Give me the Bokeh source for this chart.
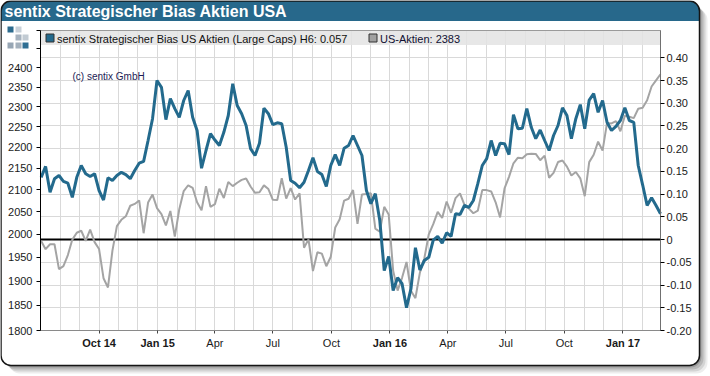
import math
import pandas as pd
from bokeh.plotting import figure
from bokeh.models import (Range1d, LogAxis, LogScale, FixedTicker, BoxAnnotation, Label,
                          DatetimeAxis)
from bokeh.embed import file_html
from bokeh.resources import INLINE

# ---------------- data ----------------
week_start = "2014-07-02"  # weekly observations (Wednesdays)

bias = [0.137, 0.161, 0.104, 0.134, 0.141, 0.128, 0.124, 0.093, 0.137, 0.163,
        0.145, 0.139, 0.145, 0.108, 0.087, 0.136, 0.130, 0.141, 0.148, 0.143,
        0.134, 0.152, 0.168, 0.172, 0.218, 0.266, 0.350, 0.335, 0.264, 0.310,
        0.288, 0.269, 0.306, 0.328, 0.269, 0.240, 0.157, 0.196, 0.233, 0.219,
        0.207, 0.236, 0.273, 0.343, 0.295, 0.277, 0.251, 0.200, 0.185, 0.212,
        0.289, 0.277, 0.253, 0.257, 0.255, 0.203, 0.130, 0.124, 0.114, 0.126,
        0.152, 0.180, 0.150, 0.143, 0.117, 0.163, 0.187, 0.163, 0.201, 0.207,
        0.229, 0.207, 0.185, 0.108, 0.079, 0.101, 0.042, -0.068, -0.037, -0.112,
        -0.084, -0.097, -0.150, -0.108, -0.018, -0.067, -0.046, -0.039, -0.001, 0.007,
        -0.008, 0.015, 0.007, 0.057, 0.055, 0.075, 0.071, 0.086, 0.123, 0.163,
        0.178, 0.218, 0.185, 0.212, 0.211, 0.187, 0.275, 0.244, 0.245, 0.288,
        0.247, 0.222, 0.241, 0.218, 0.196, 0.229, 0.251, 0.290, 0.273, 0.222,
        0.266, 0.297, 0.244, 0.307, 0.321, 0.280, 0.306, 0.258, 0.240, 0.249,
        0.262, 0.290, 0.262, 0.258, 0.163, 0.120, 0.075, 0.092, 0.075, 0.057]

spx = [1985.4, 1967.6, 1978.2, 1978.3, 1925.2, 1931.6, 1955.1, 1988.4, 2003.4, 2007.7,
       1985.5, 2010.4, 1982.9, 1967.9, 1906.1, 1886.8, 1964.6, 2018.1, 2031.9, 2039.8,
       2063.5, 2067.6, 2075.4, 2002.3, 2070.7, 2088.8,
       2058.2, 2044.8, 2019.4, 2051.8, 1995.0, 2055.5, 2097.0, 2110.3, 2104.5, 2071.3,
       2053.4, 2108.1, 2061.0, 2067.0, 2102.1, 2081.2, 2117.7, 2108.3, 2116.1, 2122.7,
       2126.1, 2107.4, 2092.8, 2094.1, 2110.0, 2101.5, 2076.8, 2076.6, 2126.6, 2079.7,
       2103.8, 2077.6, 2091.5, 1970.9, 1988.9, 1921.2, 1961.1, 1958.0, 1931.3, 1951.4,
       2014.9, 2033.1, 2075.2, 2079.4, 2099.2, 2023.0, 2089.2, 2090.1, 2091.7, 2012.4,
       2005.6, 2061.0, 2043.9,
       1922.0, 1880.3, 1906.9, 1940.2, 1880.1, 1864.8, 1917.8, 1948.1, 2000.0, 2022.2,
       2049.6, 2035.9, 2072.8, 2047.6, 2080.7, 2091.6, 2065.3, 2057.1, 2046.6, 2052.3,
       2099.1, 2099.1, 2096.1, 2071.2, 2037.4, 2103.0, 2129.9, 2161.7, 2175.0, 2173.6,
       2182.9, 2184.1, 2183.9, 2169.0, 2180.0, 2127.8, 2139.2, 2164.7, 2168.3, 2153.7,
       2133.0, 2141.2, 2126.4, 2085.2, 2164.4, 2181.9, 2213.4, 2192.0, 2259.5, 2258.1,
       2263.8, 2238.8,
       2277.0, 2274.6, 2271.3, 2294.7, 2297.4, 2316.1, 2351.2, 2367.3, 2383.1]

right_ticks = [-0.2, -0.15, -0.1, -0.05, 0, 0.05, 0.1, 0.15, 0.2, 0.25, 0.3, 0.35, 0.4]
right_labels = ["-0.20", "-0.15", "-0.10", "-0.05", "0", "0.05", "0.10", "0.15",
                "0.20", "0.25", "0.30", "0.35", "0.40"]
left_ticks = [1800, 1850, 1900, 1950, 2000, 2050, 2100, 2150, 2200, 2250, 2300, 2350, 2400, 2450, 2500]
left_labels = ["1800", "1850", "1900", "1950", "2000", "2050", "2100", "2150", "2200",
               "2250", "2300", "2350", "2400", "", ""]
quarter_dates = ["2014-10-01", "2015-01-01", "2015-04-01", "2015-07-01", "2015-10-01",
                 "2016-01-01", "2016-04-01", "2016-07-01", "2016-10-01", "2017-01-01"]
quarter_labels = ["Oct 14", "Jan 15", "Apr", "Jul", "Oct", "Jan 16", "Apr", "Jul", "Oct", "Jan 17"]
quarter_bold = [True, True, False, False, False, True, False, False, False, True]

title_text = "sentix Strategischer Bias Aktien USA"
legend_bias = "sentix Strategischer Bias US Aktien (Large Caps) H6: 0.057"
legend_spx = "US-Aktien: 2383"
copyright_text = "(c) sentix GmbH"

x_first, x_last = "2014-07-01", "2017-03-01"
bias_lo, bias_hi = -0.2, 0.46
spx_lo, spx_hi = 1800, 2500

# ---------------- styling / geometry ----------------
BLUE = "#236a8d"
GRAY = "#a4a4a4"
FONT = "Liberation Sans"
W, H = 710, 376
CL, CR, CT, CB = 40, 660, 30, 330  # chart area inside the canvas (px)


def ms(d):
    return int(pd.Timestamp(d).value // 10**6)


x0, x1 = ms(x_first), ms(x_last)
sx = (x1 - x0) / (CR - CL)
sy = (bias_hi - bias_lo) / (CB - CT)
kl = math.log(spx_hi / spx_lo) / (CB - CT)

dates = pd.date_range(week_start, periods=len(bias), freq="7D")
month_ticks = [ms(d) for d in pd.date_range(x_first, x_last, freq="MS")]
q_ticks = [ms(d) for d in quarter_dates]

p = figure(width=W, height=H, x_axis_type="datetime",
           x_range=Range1d(x0 - CL * sx, x1 + (W - CR) * sx),
           y_range=Range1d(bias_lo - (H - CB) * sy, bias_hi + CT * sy),
           y_axis_location="right",
           output_backend="svg", toolbar_location=None, tools="",
           min_border=0, border_fill_color="white", background_fill_color="white",
           outline_line_color=None)
p.title = None
p.extra_y_ranges = {"spx": Range1d(spx_lo * math.exp(-(H - CB) * kl),
                                   spx_hi * math.exp(CT * kl))}
p.extra_y_scales = {"spx": LogScale()}


def cbox(l, t, r, b, level="image", **kw):
    kw.setdefault("fill_alpha", 1.0)
    kw.setdefault("line_alpha", 1.0)
    return BoxAnnotation(left=l, right=r, top=t, bottom=b,
                         left_units="canvas", right_units="canvas",
                         top_units="canvas", bottom_units="canvas",
                         level=level, **kw)


# ---- chrome (drawn first) ----
for off, a in [(8, 0.07), (6, 0.10), (4, 0.13), (2, 0.16)]:
    p.add_layout(cbox(0.5 + off, 0.5 + off, 699 + off, 365 + off, fill_color="black",
                      fill_alpha=a, line_alpha=0, border_radius=11))
p.add_layout(cbox(0.5, 0.5, 699, 365, fill_color="white", line_alpha=0, border_radius=10))
p.add_layout(cbox(0.5, 0.5, 699, 20.5, fill_color="#27688b", line_alpha=0,
                  border_radius=(10, 10, 0, 0)))
p.add_layout(cbox(0.5, 0.5, 699, 365, fill_alpha=0, line_color="#151515", line_width=1.5,
                  border_radius=10))
logo = [(7, 26, "#2c6b8e"), (15, 26, "#c9d1d9"), (15, 34, "#a7b3bf"), (22, 34, "#c2cbd3"),
        (7, 42, "#97a6b4"), (15, 42, "#a3b0bc"), (22, 42, "#2f6f93")]
for lx, ly, c in logo:
    p.add_layout(cbox(lx, ly, lx + 6, ly + 6, fill_color=c, line_alpha=0))

# ---- grid limited to chart area ----
p.xgrid.ticker = FixedTicker(ticks=month_ticks)
p.ygrid.ticker = FixedTicker(ticks=right_ticks)
for g in (p.xgrid[0], p.ygrid[0]):
    g.grid_line_color = "#d9d9d9"
p.xgrid[0].bounds = (x0, x1)
p.ygrid[0].bounds = (bias_lo, bias_hi)
try:
    p.xgrid[0].cross_bounds = (bias_lo, bias_hi)
    p.ygrid[0].cross_bounds = (x0, x1)
except Exception:
    for g in (p.xgrid[0], p.ygrid[0]):
        g.visible = False
    p.segment(x0=month_ticks, y0=bias_lo, x1=month_ticks, y1=bias_hi,
              line_color="#d9d9d9", line_width=1)
    p.segment(x0=x0, y0=right_ticks, x1=x1, y1=right_ticks,
              line_color="#d9d9d9", line_width=1)

# legend bar, chart outline, zero line, legend swatches
p.add_layout(cbox(CL, CT, CR, 44.5, level="underlay", fill_color="#e3e3e3", fill_alpha=0.85,
                  line_alpha=0))
p.add_layout(cbox(CL, CT, CR, CB, level="underlay", fill_alpha=0, line_color="#9a9a9a",
                  line_width=1))
p.add_layout(BoxAnnotation(left=x0, right=x1, bottom=0, top=0, fill_alpha=0,
                           line_color="black", line_alpha=1.0, line_width=2,
                           level="underlay"))
p.add_layout(cbox(45.5, 33.5, 53.5, 41.5, level="underlay", fill_color=BLUE,
                  line_color="#333333", line_width=1))
p.add_layout(cbox(368.5, 33.5, 376.5, 41.5, level="underlay", fill_color="#a0a0a0",
                  line_color="#333333", line_width=1))

# ---- axes at fixed positions ----
ra = p.yaxis[0]
ra.fixed_location = x1
ra.bounds = (bias_lo, bias_hi)
ra.ticker = FixedTicker(ticks=right_ticks)
ra.major_label_overrides = dict(zip(right_ticks, right_labels))
ra.axis_line_color = "#707070"
ra.major_tick_line_color = "black"
ra.major_tick_in = 0
ra.major_tick_out = 4
ra.minor_tick_line_color = None
ra.major_label_standoff = 2
ra.major_label_text_font = FONT
ra.major_label_text_font_size = "11px"
ra.major_label_text_color = "#1a1a1a"

la = LogAxis(y_range_name="spx", fixed_location=x0, bounds=(spx_lo, spx_hi),
             ticker=FixedTicker(ticks=left_ticks),
             major_label_overrides=dict(zip(left_ticks, left_labels)))
la.axis_line_color = "black"
la.major_tick_line_color = "black"
la.major_tick_in = 0
la.major_tick_out = 4
la.minor_tick_line_color = None
la.major_label_standoff = 4
la.major_label_text_font = FONT
la.major_label_text_font_size = "11px"
la.major_label_text_color = "#1a1a1a"
p.add_layout(la, "left")

xa = p.xaxis[0]
xa.fixed_location = bias_lo
xa.bounds = (x0, x1)
xa.ticker = FixedTicker(ticks=[t for t, b in zip(q_ticks, quarter_bold) if not b])
xa.major_label_overrides = {t: lab for t, lab, b in zip(q_ticks, quarter_labels, quarter_bold) if not b}
xb = DatetimeAxis(fixed_location=bias_lo, bounds=(x0, x1),
                  ticker=FixedTicker(ticks=[t for t, b in zip(q_ticks, quarter_bold) if b]),
                  major_label_overrides={t: lab for t, lab, b in zip(q_ticks, quarter_labels, quarter_bold) if b})
for ax, style in ((xa, "normal"), (xb, "bold")):
    ax.axis_line_color = "#8a8a8a"
    ax.major_tick_line_color = "#444444"
    ax.major_tick_in = 0
    ax.major_tick_out = 3
    ax.minor_tick_line_color = None
    ax.major_label_standoff = 3
    ax.major_label_text_font = FONT
    ax.major_label_text_font_size = "11px"
    ax.major_label_text_font_style = style
    ax.major_label_text_color = "#1a1a1a"
p.add_layout(xb, "below")

# ---- series ----
p.line(dates, spx, y_range_name="spx", line_color=GRAY, line_width=2)
p.line(dates, bias, line_color=BLUE, line_width=3)

# ---- texts ----
p.add_layout(Label(x=4, y=11, x_units="canvas", y_units="canvas", text=title_text,
                   text_font=FONT, text_font_size="16px", text_font_style="bold",
                   text_color="white", text_baseline="middle"))
p.add_layout(Label(x=56.5, y=38, x_units="canvas", y_units="canvas", text=legend_bias,
                   text_font=FONT, text_font_size="11px", text_color="#111111",
                   text_baseline="middle"))
p.add_layout(Label(x=379.5, y=38, x_units="canvas", y_units="canvas", text=legend_spx,
                   text_font=FONT, text_font_size="11px", text_color="#111133",
                   text_baseline="middle"))
p.add_layout(Label(x=72, y=76, x_units="canvas", y_units="canvas", text=copyright_text,
                   text_font=FONT, text_font_size="10px", text_color="#1c1c55",
                   text_baseline="middle"))

open("out.html", "w").write(file_html(p, INLINE))
